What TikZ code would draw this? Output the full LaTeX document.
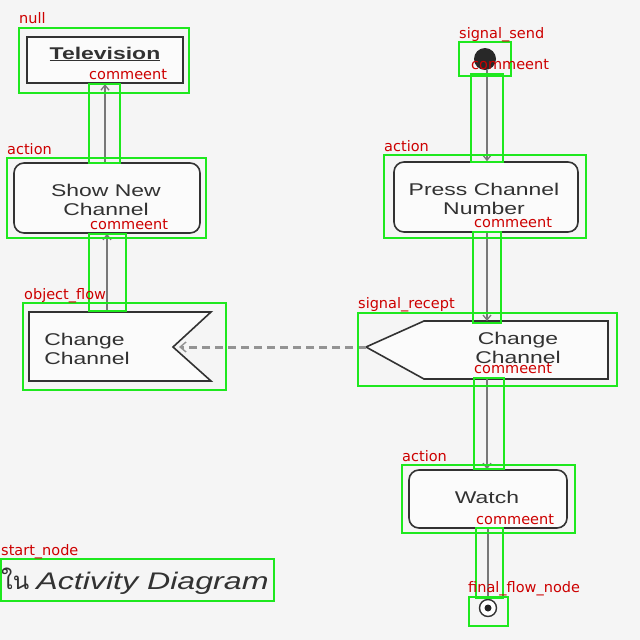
\documentclass[tikz,border=0pt]{standalone}
\usepackage{fontspec}
\setmainfont{Liberation Sans}
\newfontfamily\lblfont{DejaVu Sans}
\newfontfamily\thaifont[Script=Thai]{Loma}
\usetikzlibrary{arrows.meta}
\definecolor{bg}{RGB}{245,245,245}
\definecolor{ink}{RGB}{50,50,50}
\definecolor{wire}{RGB}{120,120,120}
\definecolor{boxgreen}{RGB}{30,232,30}
\definecolor{lblred}{RGB}{205,0,0}
\tikzset{
  diag/.style={draw=ink, line width=1.6pt, fill=white!60!bg},
  actbox/.style={diag, rounded corners=10pt, inner sep=0pt},
  dtext/.style={text=ink, font=\fontsize{17}{18.5}\selectfont, xscale=1.35, align=center, inner sep=0pt},
  flow/.style={draw=wire, line width=2.4pt, -{Straight Barb[length=5pt,width=8pt,line width=1.3pt]}},
  ann/.style={draw=boxgreen, line width=2.6pt},
  lbl/.style={text=lblred, font=\lblfont\fontsize{14.5}{15}\selectfont, anchor=base west, inner sep=0pt}
}
\begin{document}
\begin{tikzpicture}[x=1pt,y=-1pt]
\clip (0,0) rectangle (640,640);
\fill[bg] (0,0) rectangle (640,640);
\useasboundingbox (0,0) rectangle (640,640);

% ---- left column ----
\node[diag, line width=2.2pt, minimum width=156pt, minimum height=46pt, inner sep=0pt] (tv) at (105,60) {};
\node[dtext, font=\bfseries\fontsize{17}{18}\selectfont] (tvt) at (105,54) {\underline{Television}};
\node[actbox, minimum width=186pt, minimum height=70pt] (show) at (107,198) {};
\node[dtext] (showt) at (106,200) {Show New\\Channel};

% accept-event style object (left)
\coordinate (lo1) at (29,312);
\coordinate (lo2) at (211,312);
\coordinate (lnotch) at (173,347);
\coordinate (lo3) at (211,381);
\coordinate (lo4) at (29,381);
\draw[diag] (lo1) -- (lo2) -- (lnotch) -- (lo3) -- (lo4) -- cycle;
\node[dtext, align=left] (ch1) at (87,349) {Change\\Channel};
\coordinate (lintop) at (107,312);

% ---- right column ----
\node[circle, fill=ink!80!black, minimum size=22pt, inner sep=0pt] (send) at (485,59) {};
\node[actbox, minimum width=184pt, minimum height=70pt] (press) at (486,197) {};
\node[dtext] (presst) at (484,199) {Press Channel\\Number};

\coordinate (ro1) at (424,321);
\coordinate (ro2) at (608,321);
\coordinate (ro3) at (608,379);
\coordinate (ro4) at (424,379);
\coordinate (rtip) at (366,347);
\draw[diag] (rtip) -- (ro1) -- (ro2) -- (ro3) -- (ro4) -- cycle;
\node[dtext] (ch2) at (518,348) {Change\\Channel};
\coordinate (rtop) at (487,321);
\coordinate (rbot) at (487,379);

\node[actbox, minimum width=158pt, minimum height=58pt] (watch) at (488,499) {};
\node[dtext] (watcht) at (487,497) {Watch};

\node[circle, draw=ink, line width=1.4pt, fill=white, minimum size=17pt, inner sep=0pt] (fin) at (488,608) {};
\node[circle, fill=ink!70!black, minimum size=7pt, inner sep=0pt] (findot) at (fin.center) {};

% ---- connectors ----
\draw[flow] (show.north -| 105,0) -- (tv.south -| 105,0);
\draw[flow] (lintop) -- (show.south -| lintop);
\draw[flow] (send.south -| 487,0) -- (press.north -| 487,0);
\draw[flow] (press.south -| 487,0) -- (rtop);
\draw[flow] (rbot) -- (watch.north -| 487,0);
\draw[draw=wire, line width=2.4pt] (watch.south -| 488,0) -- (fin.north);
\draw[draw=wire!80, line width=3pt, dash pattern=on 8pt off 5pt,
      -{Straight Barb[length=6pt,width=10pt,line width=1.4pt]}] (rtip) -- ([xshift=6pt]lnotch);

% ---- title ----
\node[text=ink, anchor=west, inner sep=0pt] (title) at (1,581)
  {{\thaifont\fontsize{24}{26}\selectfont ใน}\hspace{7pt}\scalebox{1.34}[1]{\fontsize{24}{26}\selectfont\itshape Activity Diagram}};

% ---- annotation boxes ----
\draw[ann] (19,28) rectangle (189,93);
\draw[ann] (89,84) rectangle (120,163);
\draw[ann] (7,158) rectangle (206,238);
\draw[ann] (89,234) rectangle (126,311);
\draw[ann] (23,303) rectangle (226,390);
\draw[ann] (459,42) rectangle (511,76);
\draw[ann] (471,74) rectangle (503,162);
\draw[ann] (384,155) rectangle (586,238);
\draw[ann] (473,232) rectangle (501,323);
\draw[ann] (358,313) rectangle (617,386);
\draw[ann] (474,378) rectangle (504,469);
\draw[ann] (402,465) rectangle (575,533);
\draw[ann] (476,528) rectangle (503,598);
\draw[ann] (469,597) rectangle (508,626);
\draw[ann] (1,559) rectangle (274,601);

% ---- annotation labels ----
\node[lbl] (l1) at (19,23) {null};
\node[lbl] (l2) at (89,79) {commeent};
\node[lbl] (l3) at (7,154) {action};
\node[lbl] (l4) at (90,229) {commeent};
\node[lbl] (l5) at (24,299) {object\_flow};
\node[lbl] (l6) at (459,38) {signal\_send};
\node[lbl] (l7) at (471,69) {commeent};
\node[lbl] (l8) at (384,151) {action};
\node[lbl] (l9) at (474,227) {commeent};
\node[lbl] (l10) at (358,308) {signal\_recept};
\node[lbl] (l11) at (474,373) {commeent};
\node[lbl] (l12) at (402,461) {action};
\node[lbl] (l13) at (476,524) {commeent};
\node[lbl] (l14) at (468,592) {final\_flow\_node};
\node[lbl] (l15) at (1,555) {start\_node};
\end{tikzpicture}
\end{document}
